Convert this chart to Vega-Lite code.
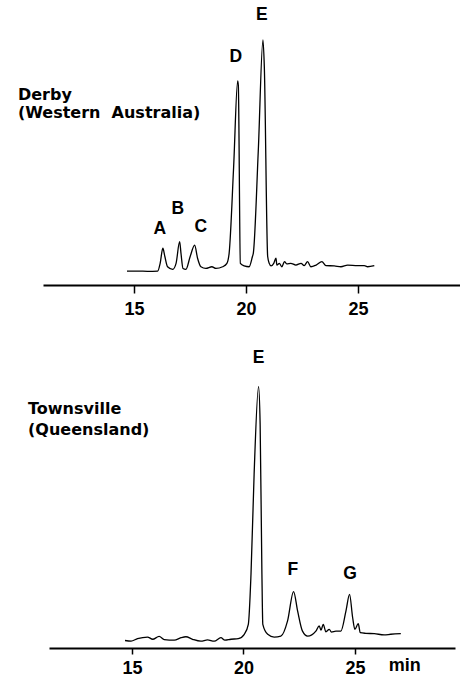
{
  "$schema": "https://vega.github.io/schema/vega-lite/v6.json",
  "padding": {"left": 17, "top": 0, "right": 0, "bottom": 0},
  "background": "white",
  "datasets": {
    "derby": [
      {"t": 14.69, "v": 4.9}, {"t": 15.2, "v": 4.9}, {"t": 15.6, "v": 4.8}, {"t": 16.06, "v": 4.9},
      {"t": 16.17, "v": 7.6}, {"t": 16.29, "v": 12.9}, {"t": 16.38, "v": 10.0}, {"t": 16.5, "v": 6.4},
      {"t": 16.73, "v": 5.5}, {"t": 16.88, "v": 7.6}, {"t": 17.04, "v": 15.2}, {"t": 17.1, "v": 11.1},
      {"t": 17.19, "v": 5.8}, {"t": 17.32, "v": 5.5}, {"t": 17.51, "v": 10.0}, {"t": 17.71, "v": 14.0},
      {"t": 17.84, "v": 9.4}, {"t": 17.99, "v": 6.4}, {"t": 18.21, "v": 5.8}, {"t": 18.48, "v": 6.4},
      {"t": 18.66, "v": 5.8}, {"t": 18.96, "v": 6.4}, {"t": 19.15, "v": 7.6}, {"t": 19.25, "v": 11.2},
      {"t": 19.45, "v": 41.4}, {"t": 19.63, "v": 71.6}, {"t": 19.66, "v": 70.0}, {"t": 19.75, "v": 7.6},
      {"t": 19.92, "v": 6.7}, {"t": 20.14, "v": 6.4}, {"t": 20.29, "v": 10.0}, {"t": 20.33, "v": 11.2},
      {"t": 20.55, "v": 47.0}, {"t": 20.76, "v": 86.0}, {"t": 20.82, "v": 76.6}, {"t": 20.97, "v": 10.0},
      {"t": 21.04, "v": 7.6}, {"t": 21.12, "v": 6.7}, {"t": 21.24, "v": 7.6}, {"t": 21.34, "v": 9.4},
      {"t": 21.38, "v": 7.0}, {"t": 21.49, "v": 7.6}, {"t": 21.6, "v": 6.4}, {"t": 21.72, "v": 8.2},
      {"t": 21.83, "v": 7.4}, {"t": 22.0, "v": 7.6}, {"t": 22.23, "v": 7.0}, {"t": 22.46, "v": 7.6},
      {"t": 22.6, "v": 6.8}, {"t": 22.75, "v": 8.2}, {"t": 22.9, "v": 6.4}, {"t": 23.13, "v": 7.0},
      {"t": 23.39, "v": 8.2}, {"t": 23.57, "v": 6.8}, {"t": 23.94, "v": 6.7}, {"t": 24.24, "v": 6.4},
      {"t": 24.54, "v": 7.0}, {"t": 24.98, "v": 6.8}, {"t": 25.28, "v": 6.8}, {"t": 25.43, "v": 6.4},
      {"t": 25.73, "v": 6.8}
    ],
    "townsville": [
      {"t": 14.69, "v": 2.4}, {"t": 14.96, "v": 2.2}, {"t": 15.25, "v": 3.0}, {"t": 15.7, "v": 3.5},
      {"t": 15.93, "v": 2.8}, {"t": 16.22, "v": 3.7}, {"t": 16.45, "v": 2.7}, {"t": 16.9, "v": 2.5},
      {"t": 17.2, "v": 3.3}, {"t": 17.42, "v": 3.6}, {"t": 17.72, "v": 2.8}, {"t": 18.09, "v": 2.2},
      {"t": 18.39, "v": 2.6}, {"t": 18.69, "v": 2.2}, {"t": 18.99, "v": 3.3}, {"t": 19.17, "v": 2.5},
      {"t": 19.44, "v": 2.8}, {"t": 19.77, "v": 3.0}, {"t": 20.04, "v": 4.4}, {"t": 20.22, "v": 7.6},
      {"t": 20.34, "v": 23.6}, {"t": 20.48, "v": 55.7}, {"t": 20.68, "v": 83.8}, {"t": 20.75, "v": 71.7},
      {"t": 20.83, "v": 23.6}, {"t": 20.87, "v": 7.6}, {"t": 21.09, "v": 4.4}, {"t": 21.38, "v": 3.5},
      {"t": 21.68, "v": 3.8}, {"t": 21.98, "v": 8.7}, {"t": 22.25, "v": 18.1}, {"t": 22.43, "v": 11.9},
      {"t": 22.65, "v": 5.4}, {"t": 22.88, "v": 3.8}, {"t": 23.25, "v": 5.4}, {"t": 23.4, "v": 7.1},
      {"t": 23.48, "v": 5.7}, {"t": 23.58, "v": 7.6}, {"t": 23.7, "v": 5.2}, {"t": 23.85, "v": 6.0},
      {"t": 23.95, "v": 5.1}, {"t": 24.15, "v": 5.4}, {"t": 24.37, "v": 5.4}, {"t": 24.6, "v": 11.9},
      {"t": 24.76, "v": 17.2}, {"t": 24.9, "v": 9.7}, {"t": 25.0, "v": 6.0}, {"t": 25.15, "v": 7.8},
      {"t": 25.24, "v": 4.9}, {"t": 25.49, "v": 4.7}, {"t": 25.87, "v": 4.6}, {"t": 26.31, "v": 4.2},
      {"t": 26.61, "v": 4.4}, {"t": 27.06, "v": 4.6}
    ],
    "derbyPeaks": [
      {"t": 16.16, "v": 19.6, "label": "A"},
      {"t": 16.96, "v": 26.7, "label": "B"},
      {"t": 17.99, "v": 20.4, "label": "C"},
      {"t": 19.55, "v": 80.0, "label": "D"},
      {"t": 20.71, "v": 94.7, "label": "E"}
    ],
    "derbySite": [
      {"t": 9.82, "v": 66.6, "label": "Derby"},
      {"t": 9.82, "v": 60.2, "label": "(Western\u00a0 Australia)"}
    ],
    "townsPeaks": [
      {"t": 20.68, "v": 92.9, "label": "E"},
      {"t": 22.22, "v": 25.0, "label": "F"},
      {"t": 24.78, "v": 23.7, "label": "G"}
    ],
    "townsSite": [
      {"t": 10.34, "v": 76.6, "label": "Townsville"},
      {"t": 10.34, "v": 70.0, "label": "(Queensland)"}
    ],
    "unit": [
      {"t": 27.24, "v": -5.9, "label": "min"}
    ]
  },
  "spacing": 51,
  "bounds": "flush",
  "center": true,
  "resolve": {"scale": {"x": "independent", "y": "independent"}},
  "vconcat": [
    {
      "width": 418,
      "height": 285,
      "layer": [
        {
          "data": {"name": "derby"},
          "mark": {"type": "line", "color": "black", "strokeWidth": 1.3, "clip": false, "interpolate": "monotone"},
          "encoding": {
            "x": {"field": "t", "type": "quantitative", "scale": {"domain": [10.94, 29.6], "nice": false, "zero": false},
                  "axis": {"values": [15, 20, 25], "title": null, "grid": false, "tickSize": 8, "labelPadding": 7}},
            "y": {"field": "v", "type": "quantitative", "scale": {"domain": [0, 100], "nice": false}, "axis": null}
          }
        },
        {
          "data": {"name": "derbyPeaks"},
          "mark": {"type": "text", "font": "Liberation Sans", "fontWeight": "bold", "fontSize": 17.5, "baseline": "middle", "align": "center"},
          "encoding": {
            "x": {"field": "t", "type": "quantitative"},
            "y": {"field": "v", "type": "quantitative"},
            "text": {"field": "label"}
          }
        },
        {
          "data": {"name": "derbySite"},
          "mark": {"type": "text", "font": "DejaVu Sans", "fontWeight": "bold", "fontSize": 16, "baseline": "middle", "align": "left"},
          "encoding": {
            "x": {"field": "t", "type": "quantitative"},
            "y": {"field": "v", "type": "quantitative"},
            "text": {"field": "label"}
          }
        }
      ]
    },
    {
      "width": 406,
      "height": 312,
      "layer": [
        {
          "data": {"name": "townsville"},
          "mark": {"type": "line", "color": "black", "strokeWidth": 1.3, "clip": false, "interpolate": "monotone"},
          "encoding": {
            "x": {"field": "t", "type": "quantitative", "scale": {"domain": [11.28, 29.49], "nice": false, "zero": false},
                  "axis": {"values": [15, 20, 25], "title": null, "grid": false, "tickSize": 6, "labelPadding": 5}},
            "y": {"field": "v", "type": "quantitative", "scale": {"domain": [0, 100], "nice": false}, "axis": null}
          }
        },
        {
          "data": {"name": "townsPeaks"},
          "mark": {"type": "text", "font": "Liberation Sans", "fontWeight": "bold", "fontSize": 17.5, "baseline": "middle", "align": "center"},
          "encoding": {
            "x": {"field": "t", "type": "quantitative"},
            "y": {"field": "v", "type": "quantitative"},
            "text": {"field": "label"}
          }
        },
        {
          "data": {"name": "townsSite"},
          "mark": {"type": "text", "font": "DejaVu Sans", "fontWeight": "bold", "fontSize": 16, "baseline": "middle", "align": "left"},
          "encoding": {
            "x": {"field": "t", "type": "quantitative"},
            "y": {"field": "v", "type": "quantitative"},
            "text": {"field": "label"}
          }
        },
        {
          "data": {"name": "unit"},
          "mark": {"type": "text", "font": "Liberation Sans", "fontWeight": "bold", "fontSize": 18, "baseline": "middle", "align": "center"},
          "encoding": {
            "x": {"field": "t", "type": "quantitative"},
            "y": {"field": "v", "type": "quantitative"},
            "text": {"field": "label"}
          }
        }
      ]
    }
  ],
  "config": {
    "view": {"stroke": null},
    "axis": {
      "domainColor": "black",
      "domainWidth": 2,
      "tickColor": "black",
      "tickWidth": 1.5,
      "labelColor": "black",
      "labelFont": "Liberation Sans",
      "labelFontWeight": "bold",
      "labelFontSize": 18
    }
  }
}
